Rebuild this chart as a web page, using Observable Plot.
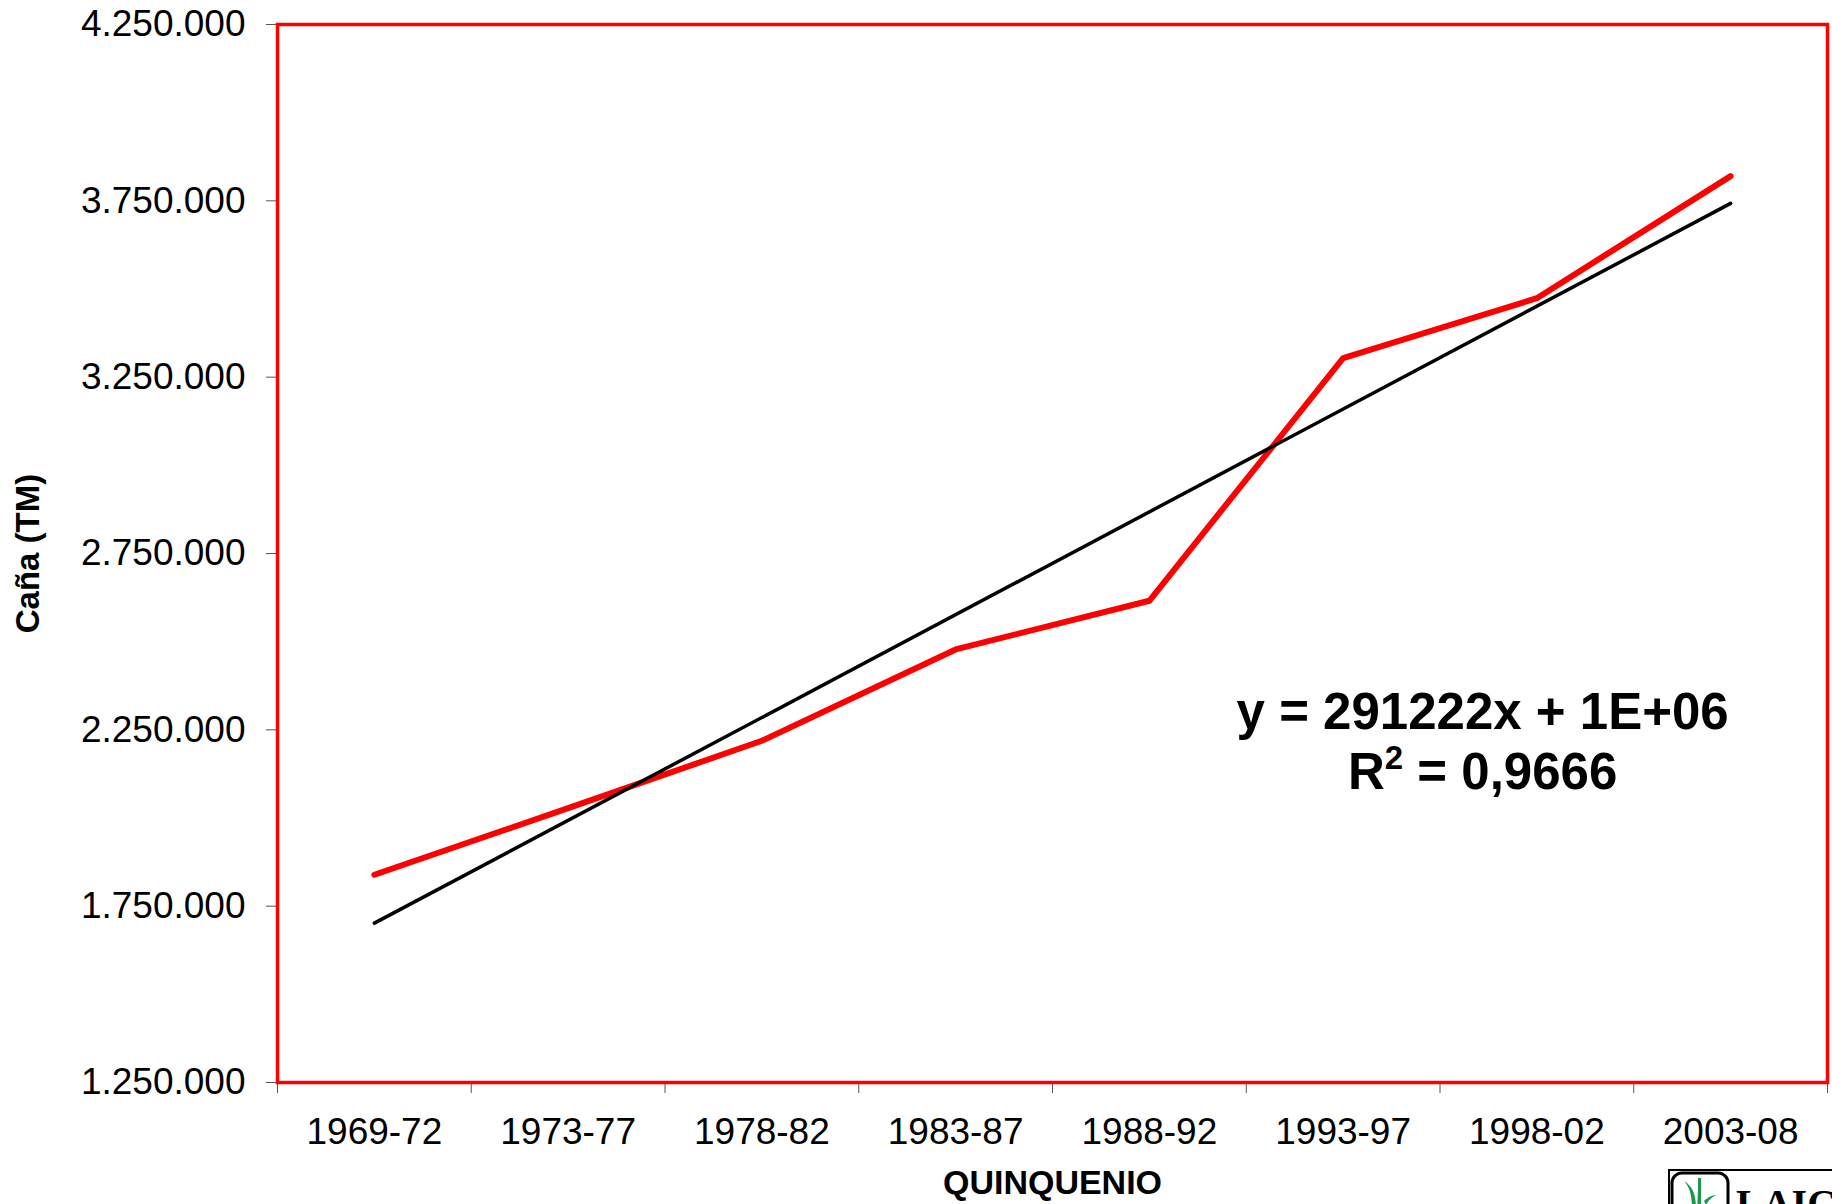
<!DOCTYPE html>
<html>
<head>
<meta charset="utf-8">
<script src="https://cdn.jsdelivr.net/npm/d3@7"></script>
<script src="https://cdn.jsdelivr.net/npm/@observablehq/plot@0.6"></script>
<style>
  html, body { margin: 0; padding: 0; background: #fff; overflow: hidden; }
  #wrap { position: relative; width: 1832px; height: 1204px; }
  #logo { position: absolute; left: 1668px; top: 1169px; }
</style>
</head>
<body>
<div id="wrap">
  <div id="chart"></div>
  <svg id="logo" width="164" height="35" viewBox="0 0 164 35">
    <rect x="1" y="1" width="200" height="60" fill="#fff" stroke="#000" stroke-width="2"/>
    <rect x="4" y="4" width="56" height="60" rx="10" ry="10" fill="#fff" stroke="#000" stroke-width="3"/>
    <path d="M16 12 C22 18 24 28 24 40 L28 40 C28 28 26 18 16 12 Z" fill="#1a9a4a"/>
    <path d="M30 9 L33 9 L33 40 L29 40 C30 28 30 18 30 9 Z" fill="#1a9a4a"/>
    <path d="M36 32 C40 28 45 26 48 26 C44 28 40 32 38 36 Z" fill="#1a9a4a"/>
    <text x="68" y="48" font-family="Liberation Serif, DejaVu Serif, serif" font-weight="bold" font-size="40" fill="#000">LAICA</text>
  </svg>
</div>
<script>
// ---- data ----
const categories = ["1969-72", "1973-77", "1978-82", "1983-87", "1988-92", "1993-97", "1998-02", "2003-08"];
const cana = [1839000, 2028000, 2219000, 2478000, 2616000, 3304000, 3474000, 3820000];
const yTicks = [1250000, 1750000, 2250000, 2750000, 3250000, 3750000, 4250000];
const equationText = "y = 291222x + 1E+06";
const r2Text = "R2 = 0,9666";
const yLabel = "Caña (TM)";
const xLabel = "QUINQUENIO";

const rows = categories.map((c, i) => ({idx: i + 1, cat: c, value: cana[i]}));
const boundaries = d3.range(categories.length + 1).map(i => i + 0.5);

const locale = d3.formatLocale({decimal: ",", thousands: ".", grouping: [3], currency: ["", ""]});
const fmt = locale.format(",d");

const FONT = "Liberation Sans, Arial, Helvetica, sans-serif";

const chart = Plot.plot({
  width: 1832,
  height: 1204,
  marginLeft: 277,
  marginRight: 5,
  marginTop: 24,
  marginBottom: 122,
  style: {fontFamily: FONT, background: "#fff", color: "#000"},
  x: {type: "linear", domain: [0.5, categories.length + 0.5]},
  y: {type: "linear", domain: [1250000, 4250000]},
  marks: [
    Plot.axisY({ticks: yTicks, tickFormat: fmt, tickSize: 11, tickPadding: 21, fontSize: 37, stroke: "#555", label: null}),
    Plot.axisX({ticks: boundaries, tickSize: 11, tickFormat: () => "", stroke: "#555", label: null}),
    Plot.axisX({ticks: rows.map(d => d.idx), tickSize: 0, tickPadding: 35, fontSize: 37,
      tickFormat: d => categories[d - 1], label: null}),
    Plot.line(rows, {x: "idx", y: "value", stroke: "#ff0000", strokeWidth: 6}),
    Plot.linearRegressionY(rows, {x: "idx", y: "value", stroke: "#000", strokeWidth: 3.5, ci: 0}),
    Plot.frame({stroke: "#ff0000", strokeWidth: 3.5}),
    Plot.text([equationText], {x: 6.72, y: 2298000, fontSize: 51, fontWeight: "bold", fill: "#000", textAnchor: "middle", lineAnchor: "middle"}),
    Plot.text([r2Text], {x: 6.72, y: 2128000, fontSize: 51, fontWeight: "bold", fill: "#000", textAnchor: "middle", lineAnchor: "middle"}),
    Plot.text([yLabel], {frameAnchor: "left", rotate: -90, dx: -249, fontSize: 33, fontWeight: "bold", fill: "#000", textAnchor: "middle", lineAnchor: "middle"}),
    Plot.text([xLabel], {frameAnchor: "bottom", dy: 101, fontSize: 34, fontWeight: "bold", fill: "#000", textAnchor: "middle", lineAnchor: "middle"})
  ]
});
document.getElementById("chart").appendChild(chart);

// render the "2" of R2 as a superscript
chart.querySelectorAll("text").forEach(t => {
  if (t.textContent === r2Text) {
    const ns = "http://www.w3.org/2000/svg";
    t.textContent = "";
    t.appendChild(document.createTextNode("R"));
    const sup = document.createElementNS(ns, "tspan");
    sup.setAttribute("dy", "-20");
    sup.style.fontSize = "33px";
    sup.textContent = "2";
    t.appendChild(sup);
    const rest = document.createElementNS(ns, "tspan");
    rest.setAttribute("dy", "20");
    rest.style.fontSize = "51px";
    rest.textContent = " = 0,9666";
    t.appendChild(rest);
  }
});
</script>
</body>
</html>
